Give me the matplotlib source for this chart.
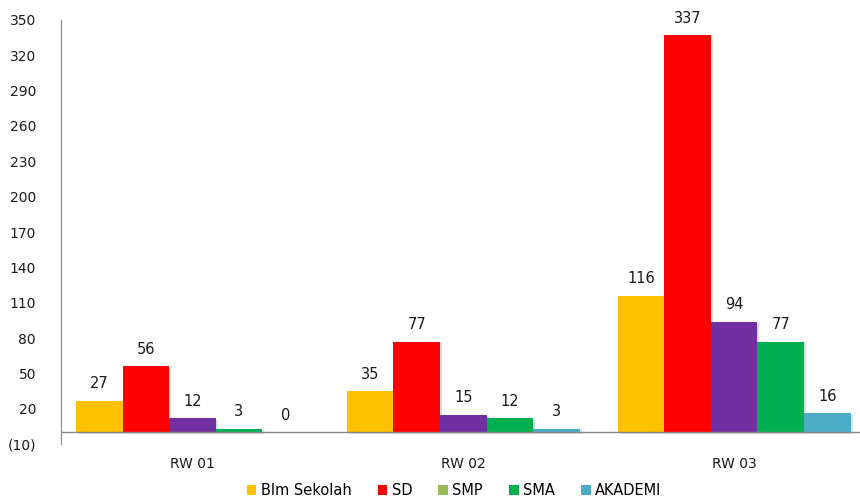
import numpy as np
import matplotlib.pyplot as plt
import matplotlib.patheffects as pe
from matplotlib.patches import Patch

wilayah = ["RW 01", "RW 02", "RW 03"]
jenjang = ["Blm Sekolah", "SD", "SMP", "SMA", "AKADEMI"]
blm_sekolah = [27, 35, 116]
sd = [56, 77, 337]
smp = [12, 15, 94]
sma = [3, 12, 77]
akademi = [0, 3, 16]
nilai = [blm_sekolah, sd, smp, sma, akademi]

warna_batang = ["#FFC000", "#FF0000", "#7030A0", "#00B050", "#4BACC6"]
warna_legenda = ["#FFC000", "#FF0000", "#9BBB59", "#00B050", "#4BACC6"]

y_ticks = list(range(-10, 351, 30))
y_labels = ["(10)" if t < 0 else str(t) for t in y_ticks]

fig = plt.figure(figsize=(8.6, 4.99), dpi=100)
ax = fig.add_axes([0.071, 0.110, 0.929, 0.850])

x = np.arange(len(wilayah))
lebar = 0.172
bayangan = [pe.SimplePatchShadow(offset=(1.5, -1), alpha=0.15), pe.Normal()]

for i, (vals, warna) in enumerate(zip(nilai, warna_batang)):
    pos = x + (i - 2) * lebar
    bars = ax.bar(pos, vals, width=lebar, color=warna, zorder=2)
    for b, v in zip(bars, vals):
        if v > 0:
            b.set_path_effects(bayangan)
    for p, v in zip(pos, vals):
        ax.text(p, v + 8, str(v), ha="center", va="bottom", fontsize=10.5,
                color="#1a1a1a")

ax.set_ylim(-10, 350)
ax.set_xlim(-0.485, 2.465)
ax.set_yticks(y_ticks)
ax.set_yticklabels(y_labels)
ax.set_xticks(x)
ax.set_xticklabels(wilayah)
ax.tick_params(axis="both", length=0, labelsize=10, colors="#1a1a1a")
ax.tick_params(axis="x", pad=9)
ax.tick_params(axis="y", pad=18)

for s in ["top", "right", "bottom"]:
    ax.spines[s].set_visible(False)
ax.spines["left"].set_color("#888888")
ax.axhline(0, color="#888888", linewidth=1, zorder=3)

handles = [Patch(facecolor=c, label=l) for c, l in zip(warna_legenda, jenjang)]
fig.legend(handles=handles, loc="lower center", bbox_to_anchor=(0.528, -0.025),
           ncol=5, frameon=False, fontsize=10.5, handlelength=0.65,
           handleheight=0.65, handletextpad=0.3, columnspacing=1.8)

plt.savefig("out.png", dpi=100)
